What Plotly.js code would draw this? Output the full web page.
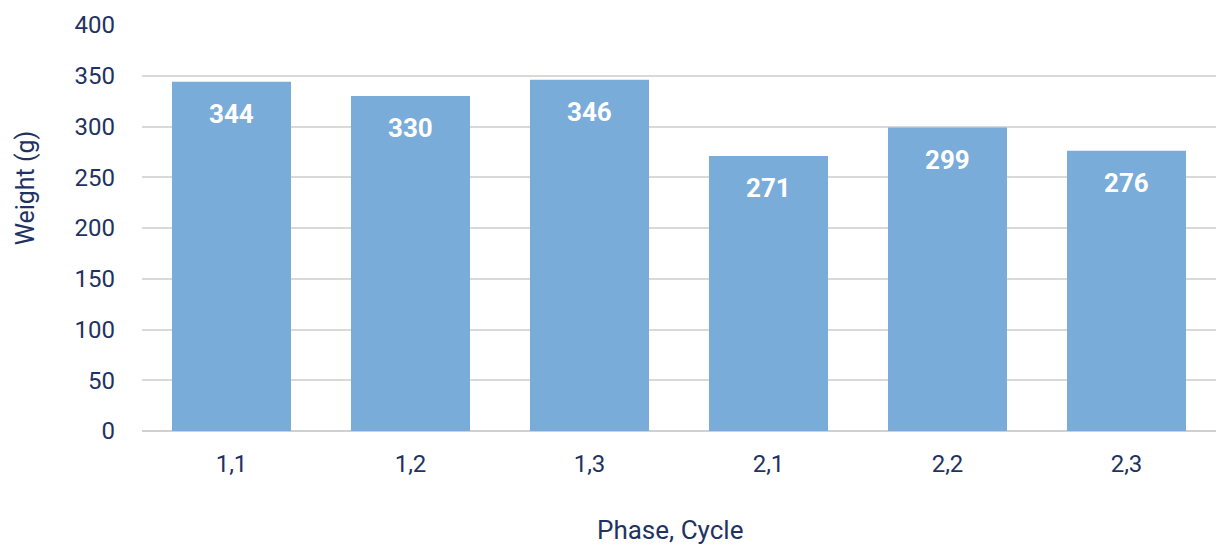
<!DOCTYPE html>
<html>
<head>
<meta charset="utf-8">
<script src="https://cdn.plot.ly/plotly-3.0.1.min.js"></script>
<style>html,body{margin:0;padding:0;background:#fff;}#chart{width:1219px;height:547px;}</style>
</head>
<body>
<div id="chart"></div>
<script>
const categories = ["1,1", "1,2", "1,3", "2,1", "2,2", "2,3"];
const weights = [344, 330, 346, 271, 299, 276];
const yTicks = [0, 50, 100, 150, 200, 250, 300, 350, 400];
const xTitle = "Phase, Cycle";
const yTitle = "Weight (g)";

const navy = "#1f3362";
const trace = {
  type: "bar",
  x: categories,
  y: weights,
  marker: {color: "#7aacda"},
  hoverinfo: "skip"
};

const annotations = categories.map((c, i) => ({
  x: c, y: weights[i], xref: "x", yref: "y",
  text: String(weights[i]), showarrow: false,
  yanchor: "middle", yshift: -32,
  font: {family: "Roboto, sans-serif", size: 26, color: "#ffffff", weight: 700}
}));
annotations.push({
  xref: "paper", yref: "paper", x: -0.109, y: 0.60,
  xanchor: "center", yanchor: "middle", textangle: -90,
  text: yTitle, showarrow: false,
  font: {family: "Roboto, sans-serif", size: 25, color: navy}
});
annotations.push({
  xref: "paper", yref: "paper", x: 0.4916, y: -0.244,
  xanchor: "center", yanchor: "middle",
  text: xTitle, showarrow: false,
  font: {family: "Roboto, sans-serif", size: 26, color: navy}
});

const layout = {
  width: 1219, height: 547,
  margin: {l: 142, r: 3, t: 25, b: 116},
  paper_bgcolor: "#fff", plot_bgcolor: "#fff",
  showlegend: false,
  bargap: 0.335,
  font: {family: "Roboto, sans-serif", color: navy, size: 24},
  xaxis: {
    type: "category",
    showgrid: false, zeroline: false,
    showline: false, ticks: "",
    tickfont: {size: 24, color: navy},
    ticklabelstandoff: 16
  },
  yaxis: {
    range: [0, 400],
    tickvals: yTicks,
    showgrid: true, gridcolor: "#d9d9d9", gridwidth: 2,
    zeroline: true, zerolinecolor: "#d0d0d0", zerolinewidth: 2,
    showline: false, ticks: "",
    tickfont: {size: 24, color: navy},
    ticklabelstandoff: 26
  },
  annotations: annotations
};

Plotly.newPlot("chart", [trace], layout, {displayModeBar: false, staticPlot: true});
</script>
</body>
</html>
